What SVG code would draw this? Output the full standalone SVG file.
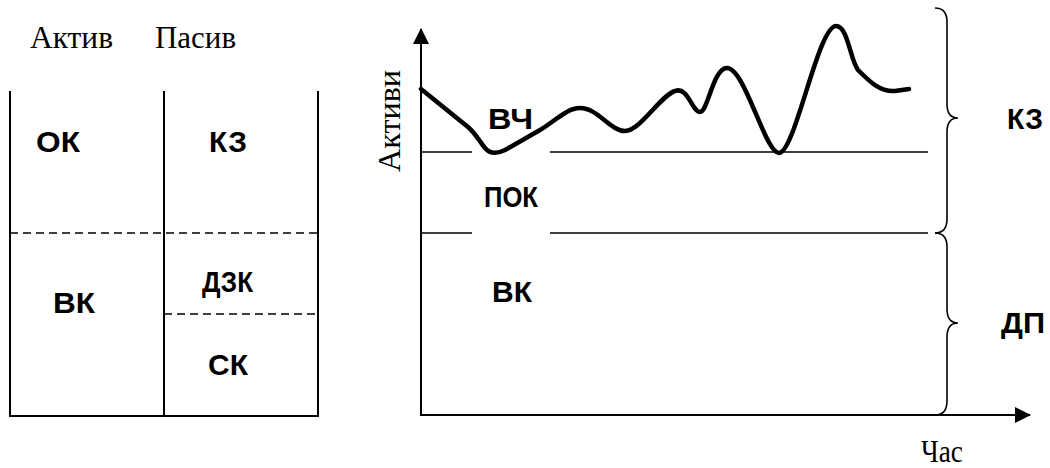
<svg xmlns="http://www.w3.org/2000/svg" width="1050" height="468" viewBox="0 0 1050 468">
<defs>
<style>
.serif{font-family:"Liberation Serif","Times New Roman",serif;font-size:31px;fill:#000}
.lbl{font-family:"Liberation Sans",Arial,sans-serif;font-weight:bold;font-size:30px;fill:#000}
.ln{stroke:#000;stroke-width:2;fill:none}
.thin{stroke:#000;stroke-width:1.5;fill:none}
.dash{stroke:#000;stroke-width:1.6;stroke-dasharray:8 5;fill:none}
.brace{stroke:#000;stroke-width:1.6;fill:none}
.curve{stroke:#000;stroke-width:4.5;fill:none;stroke-linejoin:round;stroke-linecap:round}
</style>
<marker id="arr" markerWidth="16" markerHeight="16" refX="15" refY="8" orient="auto" markerUnits="userSpaceOnUse" viewBox="0 0 16 16">
<path d="M0,0 L16,8 L0,16 Z" fill="#000"/>
</marker>
</defs>
<rect width="1050" height="468" fill="#fff"/>

<g id="balance-table">
<text class="serif" x="30" y="48" textLength="83" lengthAdjust="spacingAndGlyphs">Актив</text>
<text class="serif" x="155" y="48" textLength="81" lengthAdjust="spacingAndGlyphs">Пасив</text>
<line class="ln" x1="10" y1="91" x2="10" y2="416"/>
<line class="ln" x1="164" y1="91" x2="164" y2="416"/>
<line class="ln" x1="318" y1="91" x2="318" y2="416"/>
<line class="ln" x1="9" y1="416" x2="319" y2="416"/>
<line class="dash" x1="10" y1="233" x2="318" y2="233"/>
<line class="dash" x1="164" y1="314" x2="318" y2="314"/>
</g>
<g id="ok"><text class="lbl" x="36" y="152" textLength="44" lengthAdjust="spacingAndGlyphs">ОК</text></g>
<g id="kz-left"><text class="lbl" x="209" y="152" textLength="38" lengthAdjust="spacingAndGlyphs">КЗ</text></g>
<g id="vk-left"><text class="lbl" x="53" y="313" textLength="42" lengthAdjust="spacingAndGlyphs">ВК</text></g>
<g id="dzk"><text class="lbl" x="202" y="292" font-size="28" textLength="51" lengthAdjust="spacingAndGlyphs">ДЗК</text></g>
<g id="sk"><text class="lbl" x="208" y="375" textLength="40" lengthAdjust="spacingAndGlyphs">СК</text></g>

<g id="connectors">
<line class="ln" x1="421" y1="415" x2="421" y2="29" marker-end="url(#arr)"/>
<line class="ln" x1="420" y1="415" x2="1030" y2="415" marker-end="url(#arr)"/>
<line class="thin" x1="421" y1="152" x2="472" y2="152"/>
<line class="thin" x1="550" y1="152" x2="928" y2="152"/>
<line class="thin" x1="421" y1="233" x2="472" y2="233"/>
<line class="thin" x1="550" y1="233" x2="928" y2="233"/>
<path class="curve" d="M421,89 L468,127 C476,134 480,142 485,148 C490,154 497,154 505,150 L540,130 C555,121 567,108 580,108 C598,108 610,131 625,131 C640,131 660,96 675,91 C688,86 692,112 700,112 C708,112 713,68 727,68 C745,68 765,153 779,153 C795,153 818,26 836,26 C848,26 850,60 858,70 C870,82 880,92 895,91 L909,89"/>
<path class="brace" d="M935,8 Q947,8 947,22 L947,104 Q947,118 958,118 Q947,118 947,132 L947,219 Q947,233 935,233"/>
<path class="brace" d="M935,233 Q947,233 947,247 L947,309 Q947,323 958,323 Q947,323 947,337 L947,401 Q947,415 935,415"/>
</g>

<g id="axis-y-label"><text class="serif" transform="translate(400,172) rotate(-90)" x="0" y="0" font-size="35" textLength="102" lengthAdjust="spacingAndGlyphs">Активи</text></g>
<g id="axis-x-label"><text class="serif" x="921" y="462" textLength="42" lengthAdjust="spacingAndGlyphs">Час</text></g>
<g id="vch"><text class="lbl" x="488" y="129" textLength="45" lengthAdjust="spacingAndGlyphs">ВЧ</text></g>
<g id="pok"><text class="lbl" x="484" y="207" font-size="25" textLength="54" lengthAdjust="spacingAndGlyphs">ПОК</text></g>
<g id="vk-chart"><text class="lbl" x="492" y="302" textLength="40" lengthAdjust="spacingAndGlyphs">ВК</text></g>
<g id="kz-right"><text class="lbl" x="1007" y="129" textLength="36" lengthAdjust="spacingAndGlyphs">КЗ</text></g>
<g id="dp"><text class="lbl" x="1001" y="333" textLength="44" lengthAdjust="spacingAndGlyphs">ДП</text></g>
</svg>
